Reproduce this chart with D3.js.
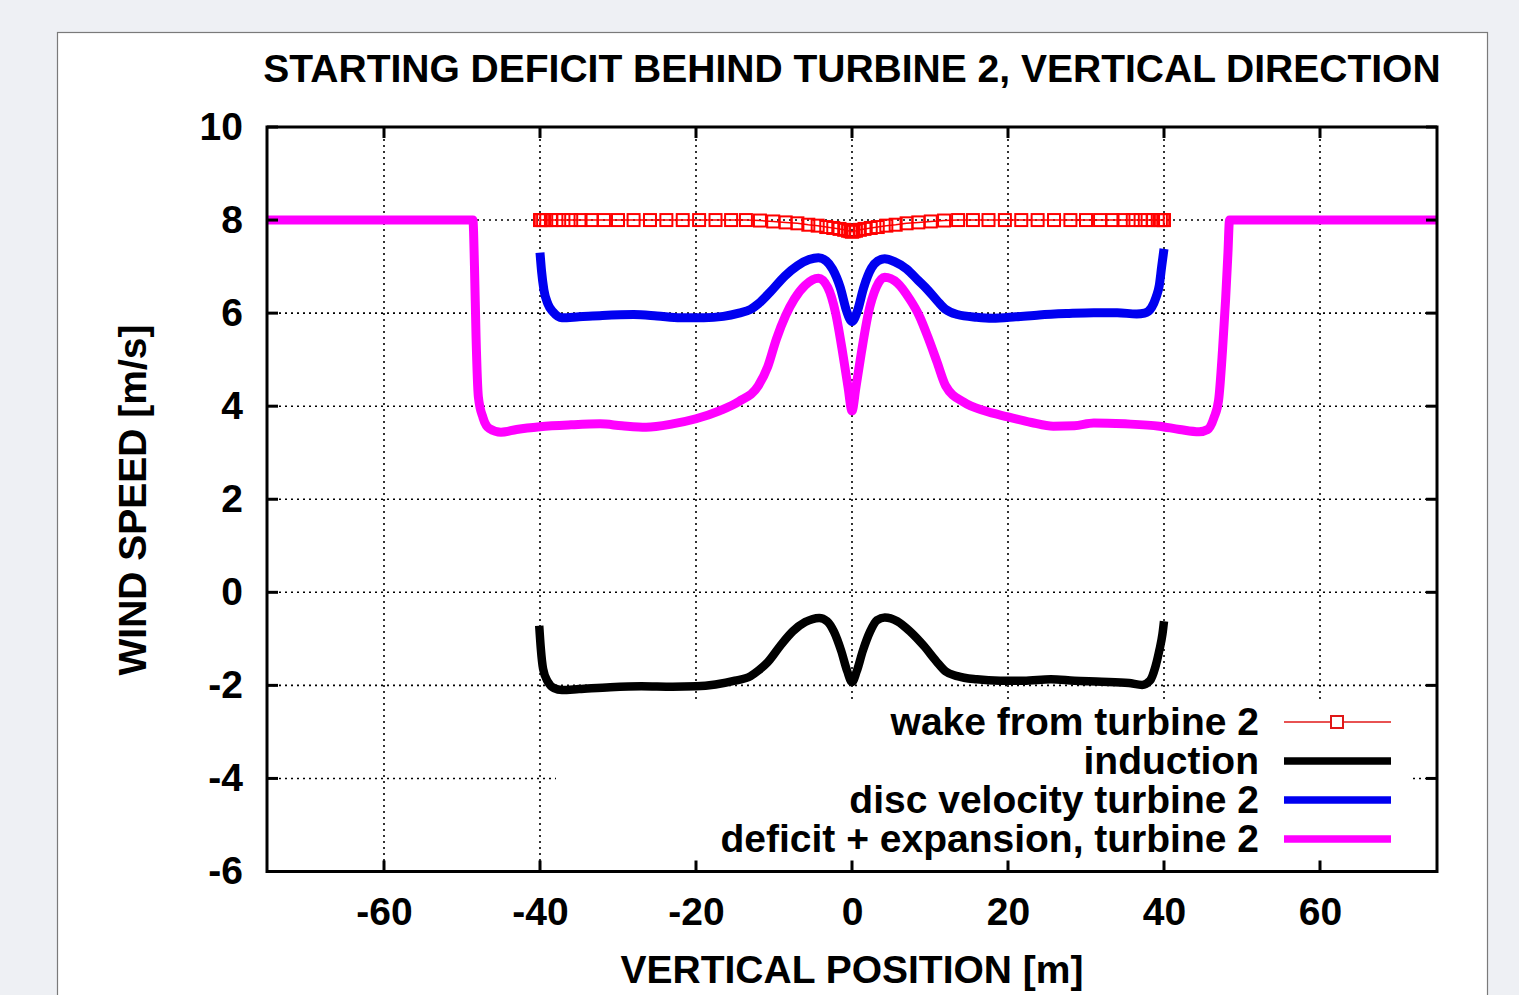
<!DOCTYPE html>
<html>
<head>
<meta charset="utf-8">
<script src="https://cdn.jsdelivr.net/npm/d3@7"></script>
<style>
  html, body { margin: 0; padding: 0; background: #eef0f4; }
  svg { display: block; }
  text { font-family: "Liberation Sans", Arial, Helvetica, sans-serif; font-weight: bold; fill: #000; }
</style>
</head>
<body>
<svg width="1519" height="995"></svg>
<script>
// tick values
var xTicks = [-60, -40, -20, 0, 20, 40, 60];
var yTicks = [-6, -4, -2, 0, 2, 4, 6, 8, 10];

// wake from turbine 2 (points with markers)
var wakeX = [-40, -39.9, -39.6, -39.2, -38.6, -37.9, -37.0, -36.0, -34.8, -33.4, -31.8, -30.0, -28.0, -25.9, -23.8, -21.7,
  -19.6, -17.5, -15.5, -13.6, -11.8, -10.1, -8.5, -7.0, -5.6, -4.4, -3.3, -2.4, -1.6, -1.0, -0.5, -0.2, 0,
  0.2, 0.5, 1.0, 1.6, 2.4, 3.3, 4.4, 5.6, 7.0, 8.5, 10.1, 11.8, 13.6, 15.5, 17.5, 19.6,
  21.7, 23.8, 25.9, 28.0, 30.0, 31.8, 33.4, 34.8, 36.0, 37.0, 37.9, 38.6, 39.2, 39.6, 39.9, 40];
var wakeY = [8, 8, 8, 8, 8, 8, 8, 8, 8, 8, 8, 8, 8, 8, 8, 8,
  8, 8, 8, 8, 7.99, 7.97, 7.95, 7.93, 7.9, 7.88, 7.85, 7.83, 7.81, 7.79, 7.77, 7.76, 7.75,
  7.76, 7.77, 7.79, 7.81, 7.83, 7.85, 7.88, 7.9, 7.93, 7.95, 7.97, 7.99, 8, 8, 8, 8,
  8, 8, 8, 8, 8, 8, 8, 8, 8, 8, 8, 8, 8, 8, 8, 8];

// induction
var induction = [[-40.1, -0.72], [-39.9, -1.2], [-39.6, -1.65], [-39.0, -1.92], [-38.2, -2.06], [-37.2, -2.1],
  [-35, -2.08], [-31, -2.04], [-27, -2.02], [-23, -2.03], [-20, -2.02], [-17.5, -1.98], [-15, -1.9],
  [-13, -1.8], [-12, -1.68], [-10.8, -1.5], [-9.2, -1.15], [-7.6, -0.84], [-6, -0.64], [-4.2, -0.55],
  [-3.2, -0.62], [-2.3, -0.85], [-1.4, -1.25], [-0.6, -1.7], [0, -1.93], [0.6, -1.7], [1.4, -1.25],
  [2.3, -0.85], [3.2, -0.6], [4.2, -0.54], [5.8, -0.62], [7.5, -0.85], [9.2, -1.15], [10.8, -1.48],
  [12, -1.7], [13.5, -1.8], [16, -1.87], [19, -1.9], [22, -1.9], [25.5, -1.87], [28.5, -1.9],
  [32, -1.92], [35.5, -1.95], [37.2, -1.99], [38.2, -1.9], [38.9, -1.6], [39.4, -1.25], [39.8, -0.9], [40, -0.62]];

// disc velocity turbine 2
var discVelocity = [[-40, 7.3], [-39.8, 6.9], [-39.5, 6.5], [-39.0, 6.2], [-38.3, 6.02], [-37.2, 5.9], [-35, 5.92],
  [-32, 5.95], [-28, 5.97], [-25, 5.94], [-22, 5.9], [-19, 5.9], [-16.5, 5.93], [-14.5, 6.0], [-13, 6.08],
  [-12, 6.2], [-10.5, 6.45], [-8.6, 6.8], [-7, 7.02], [-5.5, 7.15], [-4.3, 7.19], [-3.3, 7.12], [-2.5, 6.95],
  [-1.5, 6.55], [-0.7, 6.05], [0, 5.82], [0.7, 6.05], [1.5, 6.55], [2.5, 6.97], [3.3, 7.12], [4.2, 7.17],
  [5.5, 7.1], [7, 6.95], [8.5, 6.7], [9.7, 6.5], [11, 6.25], [12, 6.08], [13.5, 5.97], [16, 5.91],
  [18, 5.89], [21, 5.92], [24, 5.96], [27.5, 5.99], [31, 6.01], [34, 6.01], [36.5, 5.98], [37.5, 6.0],
  [38.4, 6.12], [39.0, 6.35], [39.4, 6.6], [39.7, 7.0], [40, 7.38]];

// deficit + expansion, turbine 2
var deficit = [[-75, 8], [-60, 8], [-48.6, 8], [-48.4, 7.0], [-48.2, 5.5], [-47.9, 4.2], [-47.3, 3.75], [-46.5, 3.52],
  [-45.0, 3.44], [-43, 3.5], [-40, 3.56], [-36, 3.6], [-32.3, 3.62], [-29.5, 3.58], [-26.4, 3.55],
  [-23, 3.62], [-20, 3.73], [-17, 3.9], [-14.5, 4.1], [-12, 4.44], [-10.8, 4.85], [-9.7, 5.44],
  [-8.5, 5.95], [-7.4, 6.3], [-6, 6.6], [-4.3, 6.75], [-3.1, 6.55], [-2.1, 6.0], [-1.2, 5.15],
  [-0.5, 4.4], [0, 3.9], [0.5, 4.4], [1.2, 5.15], [2.1, 6.0], [3.1, 6.55], [4.2, 6.77], [5.8, 6.65],
  [7.4, 6.3], [8.6, 5.95], [9.7, 5.5], [10.9, 4.95], [12, 4.44], [14.3, 4.09], [17, 3.9], [20, 3.77],
  [23, 3.65], [25.8, 3.57], [28.5, 3.58], [31, 3.64], [35, 3.62], [39.4, 3.57], [42, 3.5], [44.5, 3.45],
  [45.6, 3.5], [46.4, 3.75], [47.0, 4.13], [47.5, 5.2], [47.9, 6.3], [48.2, 7.3], [48.4, 8], [60, 8], [75, 8]];

var legendLabels = ["wake from turbine 2", "induction", "disc velocity turbine 2", "deficit + expansion, turbine 2"];

var svg = d3.select("svg");

var plotL = 267, plotT = 127, plotR = 1437, plotB = 871.5;

var x = d3.scaleLinear().domain([-75, 75]).range([plotL, plotR]);
var y = d3.scaleLinear().domain([-6, 10]).range([plotB, plotT]);

// white panel
svg.append("rect")
  .attr("x", 57.5).attr("y", 32.5)
  .attr("width", 1430).attr("height", 1000)
  .attr("fill", "#fff").attr("stroke", "#7a7a7a").attr("stroke-width", 1.2);

// title
svg.append("text")
  .attr("x", 852).attr("y", 82)
  .attr("text-anchor", "middle")
  .style("font-size", "39px")
  .text("STARTING DEFICIT BEHIND TURBINE 2, VERTICAL DIRECTION");

// grid
var grid = svg.append("g").attr("class", "grid");
grid.selectAll("line.gx").data(xTicks).enter().append("line")
  .attr("x1", d => x(d)).attr("x2", d => x(d))
  .attr("y1", plotT).attr("y2", plotB)
  .attr("stroke", "#000").attr("stroke-width", 1.6).attr("stroke-dasharray", "2,4");
grid.selectAll("line.gy").data(yTicks).enter().append("line")
  .attr("x1", plotL).attr("x2", plotR)
  .attr("y1", d => y(d)).attr("y2", d => y(d))
  .attr("stroke", "#000").attr("stroke-width", 1.6).attr("stroke-dasharray", "2,4");

// opaque key box
svg.append("rect")
  .attr("x", 556).attr("y", 703)
  .attr("width", 1413 - 556).attr("height", plotB - 703)
  .attr("fill", "#fff");

var line = d3.line()
  .x(d => x(d[0]))
  .y(d => y(d[1]))
  .curve(d3.curveMonotoneX);

// deficit + expansion
svg.append("path").datum(deficit)
  .attr("fill", "none").attr("stroke", "#ff00ff").attr("stroke-width", 9)
  .attr("stroke-linejoin", "round")
  .attr("d", line);

// disc velocity
svg.append("path").datum(discVelocity)
  .attr("fill", "none").attr("stroke", "#0000f0").attr("stroke-width", 9)
  .attr("stroke-linejoin", "round")
  .attr("d", line);

// induction
svg.append("path").datum(induction)
  .attr("fill", "none").attr("stroke", "#000").attr("stroke-width", 8.5)
  .attr("stroke-linejoin", "round")
  .attr("d", line);

// wake with square markers
var wake = wakeX.map((v, i) => [v, wakeY[i]]);
svg.append("path").datum(wake)
  .attr("fill", "none").attr("stroke", "#f00").attr("stroke-width", 1.5)
  .attr("d", d3.line().x(d => x(d[0])).y(d => y(d[1])));
svg.append("g").selectAll("rect").data(wake).enter().append("rect")
  .attr("x", d => x(d[0]) - 6).attr("y", d => y(d[1]) - 6)
  .attr("width", 12).attr("height", 12)
  .attr("fill", "none").attr("stroke", "#f00").attr("stroke-width", 2);

// border
svg.append("rect")
  .attr("x", plotL).attr("y", plotT)
  .attr("width", plotR - plotL).attr("height", plotB - plotT)
  .attr("fill", "none").attr("stroke", "#000").attr("stroke-width", 3);

// inward ticks on all four sides
var tk = svg.append("g");
xTicks.forEach(function(d) {
  tk.append("line").attr("x1", x(d)).attr("x2", x(d)).attr("y1", plotB).attr("y2", plotB - 11)
    .attr("stroke", "#000").attr("stroke-width", 3);
  tk.append("line").attr("x1", x(d)).attr("x2", x(d)).attr("y1", plotT).attr("y2", plotT + 11)
    .attr("stroke", "#000").attr("stroke-width", 3);
});
yTicks.forEach(function(d) {
  tk.append("line").attr("x1", plotL).attr("x2", plotL + 11).attr("y1", y(d)).attr("y2", y(d))
    .attr("stroke", "#000").attr("stroke-width", 3);
  tk.append("line").attr("x1", plotR).attr("x2", plotR - 11).attr("y1", y(d)).attr("y2", y(d))
    .attr("stroke", "#000").attr("stroke-width", 3);
});

// axis labels via d3 axes
var xAxis = svg.append("g")
  .attr("transform", "translate(0," + plotB + ")")
  .call(d3.axisBottom(x).tickValues(xTicks).tickFormat(d => String(d)).tickSize(0).tickPadding(26));
xAxis.select(".domain").remove();
xAxis.selectAll("text").style("font-size", "39px");
xAxis.attr("font-family", null).attr("font-size", null);

var yAxis = svg.append("g")
  .attr("transform", "translate(" + plotL + ",0)")
  .call(d3.axisLeft(y).tickValues(yTicks).tickFormat(d => String(d)).tickSize(0).tickPadding(24));
yAxis.select(".domain").remove();
yAxis.selectAll("text").style("font-size", "39px");
yAxis.attr("font-family", null).attr("font-size", null);

// axis titles
svg.append("text")
  .attr("x", 852).attr("y", 983)
  .attr("text-anchor", "middle")
  .style("font-size", "39px")
  .text("VERTICAL POSITION [m]");

svg.append("text")
  .attr("transform", "translate(146,500) rotate(-90)")
  .attr("text-anchor", "middle")
  .style("font-size", "39px")
  .text("WIND SPEED [m/s]");

// key
var keyY = [722, 761, 800, 839];
var keyColors = ["#e01818", "#000", "#0000f0", "#ff00ff"];
legendLabels.forEach(function(lbl, i) {
  svg.append("text")
    .attr("x", 1259).attr("y", keyY[i] + 13)
    .attr("text-anchor", "end")
    .style("font-size", "39px")
    .text(lbl);
  svg.append("line")
    .attr("x1", 1284).attr("x2", 1391)
    .attr("y1", keyY[i]).attr("y2", keyY[i])
    .attr("stroke", keyColors[i])
    .attr("stroke-width", i === 0 ? 1.5 : 7.5);
});
svg.append("rect")
  .attr("x", 1331).attr("y", 716)
  .attr("width", 12).attr("height", 12)
  .attr("fill", "#fff").attr("stroke", "#e01818").attr("stroke-width", 2);
</script>
</body>
</html>
